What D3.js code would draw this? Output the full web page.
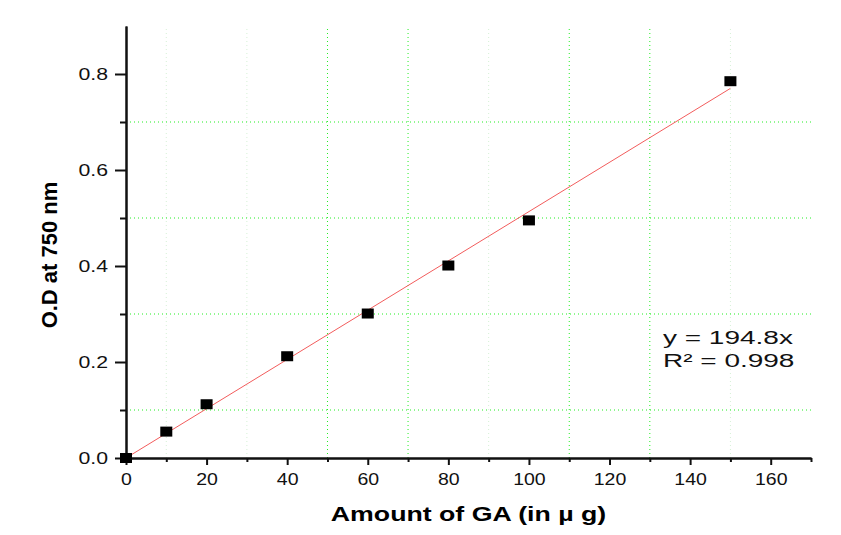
<!DOCTYPE html>
<html>
<head>
<meta charset="utf-8">
<script src="https://cdn.jsdelivr.net/npm/d3@7"></script>
<style>
  body { margin: 0; background: #fff; }
  text { font-family: Arial, "Liberation Sans", sans-serif; }
</style>
</head>
<body>
<div class="chart"></div>
<script>
// measured points
const amount = [0, 10, 20, 40, 60, 80, 100, 150];
const od = [0, 0.055, 0.112, 0.212, 0.301, 0.401, 0.495, 0.785];
// fit through origin, y = x / 194.8
const slope = 194.8;
const fitRange = [0, 150];
const xTicks = [0, 20, 40, 60, 80, 100, 120, 140, 160];
const xMinorTicks = [10, 30, 50, 70, 90, 110, 130, 150, 170];
const yTicks = [0, 0.2, 0.4, 0.6, 0.8];
const gridStrongX = [50, 70, 110, 130];
const gridFaintX = [10, 30, 90, 150];
const gridY = [0.1, 0.3, 0.5, 0.7];
const equation = ["y = 194.8x", "R² = 0.998"];

const width = 841, height = 535;
const margin = { left: 126, right: 30, top: 26, bottom: 77 };

const svg = d3.select(".chart").append("svg")
  .attr("width", width)
  .attr("height", height);

const x = d3.scaleLinear().domain([0, 170]).range([margin.left, width - margin.right]);
const y = d3.scaleLinear().domain([0, 0.9]).range([height - margin.bottom, margin.top]);

// grid
const grid = svg.append("g");
grid.selectAll(".gs").data(gridStrongX).enter().append("line")
  .attr("x1", d => x(d)).attr("x2", d => x(d))
  .attr("y1", y(0)).attr("y2", y(0.9))
  .attr("stroke", "#22ee22").attr("stroke-width", 1)
  .attr("stroke-dasharray", "1,3");
grid.selectAll(".gf").data(gridFaintX).enter().append("line")
  .attr("x1", d => x(d)).attr("x2", d => x(d))
  .attr("y1", y(0)).attr("y2", y(0.9))
  .attr("stroke", "#d6f0d6").attr("stroke-width", 1)
  .attr("stroke-dasharray", "1,3");
grid.selectAll(".gy").data(gridY).enter().append("line")
  .attr("x1", x(0)).attr("x2", x(170))
  .attr("y1", d => y(d)).attr("y2", d => y(d))
  .attr("stroke", "#22ee22").attr("stroke-width", 1)
  .attr("stroke-dasharray", "1,3");

// axes (text is stretched sideways like the source image)
const xAxis = d3.axisBottom(x).tickValues(xTicks).tickSize(7).tickPadding(8.6).tickSizeOuter(0);
const xMinor = d3.axisBottom(x).tickValues(xMinorTicks).tickSize(4).tickFormat("").tickSizeOuter(0);
const yAxis = d3.axisLeft(y).tickValues(yTicks).tickFormat(d3.format(".1f")).tickSize(11).tickSizeOuter(0);
const yMinor = d3.axisLeft(y).tickValues(gridY).tickSize(6).tickFormat("").tickSizeOuter(0);

function styleAxis(g) {
  g.select(".domain").attr("stroke", "#111").attr("stroke-width", 2);
  g.selectAll(".tick line").attr("stroke", "#111").attr("stroke-width", 2);
  g.selectAll(".tick text").style("font-size", "16px").attr("fill", "#111");
}

svg.append("g").attr("transform", `translate(0,${y(0)})`).call(xMinor).call(styleAxis);
svg.append("g").attr("transform", `translate(0,${y(0)})`).call(xAxis).call(styleAxis)
  .selectAll(".tick text").attr("transform", "scale(1.22,1)");
svg.append("g").attr("transform", `translate(${x(0)},0)`).call(yMinor).call(styleAxis);
const sxY = 1.25;
svg.append("g").attr("transform", `translate(${x(0)},0)`).call(yAxis).call(styleAxis)
  .selectAll(".tick text")
  .style("font-size", "17px")
  .attr("x", -18 / sxY)
  .attr("transform", `scale(${sxY},1)`);

// fit line
svg.append("line")
  .attr("x1", x(fitRange[0])).attr("y1", y(fitRange[0] / slope))
  .attr("x2", x(fitRange[1])).attr("y2", y(fitRange[1] / slope))
  .attr("stroke", "#f25c5c").attr("stroke-width", 1);

// points
const pw = 12, ph = 10;
svg.selectAll(".pt").data(amount).enter().append("rect")
  .attr("x", d => x(d) - pw / 2)
  .attr("y", (d, i) => y(od[i]) - ph / 2)
  .attr("width", pw).attr("height", ph)
  .attr("fill", "#000");

// equation
svg.selectAll(".eq").data(equation).enter().append("text")
  .attr("transform", (d, i) => `translate(663,${344 + i * 23}) scale(1.6,1)`)
  .style("font-size", "17.5px").attr("fill", "#111")
  .text(d => d);

// axis titles
svg.append("text")
  .attr("transform", "translate(468.5,521) scale(1.37,1)")
  .attr("text-anchor", "middle")
  .style("font-size", "19.5px").style("font-weight", "bold")
  .text("Amount of GA (in µ g)");

svg.append("text")
  .attr("transform", "translate(57,255) rotate(-90)")
  .attr("text-anchor", "middle")
  .style("font-size", "22px").style("font-weight", "bold")
  .text("O.D at 750 nm");
</script>
</body>
</html>
